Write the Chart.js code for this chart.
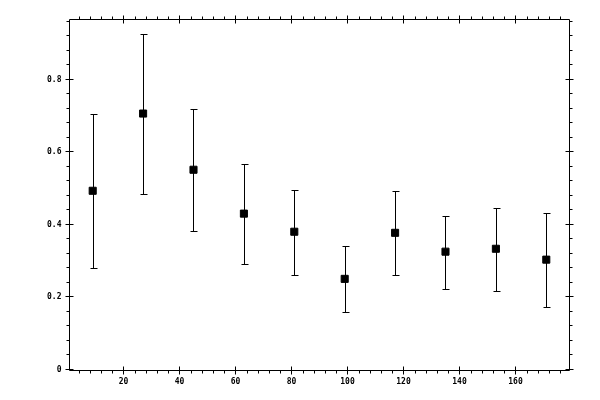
<!DOCTYPE html>
<html>
<head>
<meta charset="utf-8">
<script src="https://cdn.jsdelivr.net/npm/chart.js@4/dist/chart.umd.min.js"></script>
<style>
  html, body { margin: 0; padding: 0; background: #fff; }
  canvas { display: block; }
</style>
</head>
<body>
<canvas id="graph" width="600" height="400"></canvas>
<script>
// bin centres and measured values
var xValues = [9, 27, 45, 63, 81, 99, 117, 135, 153, 171];
var yValues = [0.493, 0.706, 0.551, 0.430, 0.380, 0.250, 0.377, 0.325, 0.333, 0.303];
var yHigh   = [0.706, 0.926, 0.719, 0.567, 0.496, 0.340, 0.493, 0.424, 0.446, 0.431];
var yLow    = [0.279, 0.485, 0.383, 0.292, 0.262, 0.159, 0.261, 0.223, 0.217, 0.173];

// tick labels
var xTicks = [20, 40, 60, 80, 100, 120, 140, 160];
var yTicks = [0, 0.2, 0.4, 0.6, 0.8];

var points = xValues.map(function (x, i) {
    return { x: x, y: yValues[i] };
});

// frame with inward/outward major ticks and outward minor ticks, plus error bars
var framePlugin = {
    id: 'frame',
    beforeDatasetsDraw: function (chart) {
        var ctx = chart.ctx;
        var xs = chart.scales.x, ys = chart.scales.y;
        ctx.save();
        ctx.strokeStyle = '#000';
        ctx.lineWidth = 1;
        ctx.beginPath();
        xValues.forEach(function (x, i) {
            var px = Math.round(xs.getPixelForValue(x)) + 0.5;
            var top = Math.round(ys.getPixelForValue(yHigh[i])) + 0.5;
            var bot = Math.round(ys.getPixelForValue(yLow[i])) + 0.5;
            ctx.moveTo(px, top); ctx.lineTo(px, bot);
            ctx.moveTo(px - 3, top); ctx.lineTo(px + 4, top);
            ctx.moveTo(px - 3, bot); ctx.lineTo(px + 4, bot);
        });
        ctx.stroke();
        ctx.restore();
    },
    afterDraw: function (chart) {
        var ctx = chart.ctx;
        var a = chart.chartArea;
        var xs = chart.scales.x, ys = chart.scales.y;
        ctx.save();
        ctx.strokeStyle = '#000';
        ctx.lineWidth = 1;
        ctx.beginPath();
        ctx.rect(a.left, a.top, a.right - a.left, a.bottom - a.top);

        var v, p;
        for (v = 4; v < xs.max; v += 4) {
            if (v < xs.min) continue;
            p = Math.round(xs.getPixelForValue(v)) + 0.5;
            if (v % 20 === 0) {
                ctx.moveTo(p, a.bottom + 4); ctx.lineTo(p, a.bottom - 4);
                ctx.moveTo(p, a.top - 4); ctx.lineTo(p, a.top + 4);
            } else {
                ctx.moveTo(p, a.bottom); ctx.lineTo(p, a.bottom + 3);
                ctx.moveTo(p, a.top); ctx.lineTo(p, a.top - 3);
            }
        }
        for (var k = 0; k * 0.04 <= ys.max; k++) {
            v = k * 0.04;
            p = Math.round(ys.getPixelForValue(v) - 0.5) + 0.5;
            if (k % 5 === 0) {
                ctx.moveTo(a.left - 4, p); ctx.lineTo(a.left + 4, p);
                ctx.moveTo(a.right - 4, p); ctx.lineTo(a.right + 4, p);
            } else {
                ctx.moveTo(a.left, p); ctx.lineTo(a.left - 3, p);
                ctx.moveTo(a.right, p); ctx.lineTo(a.right + 3, p);
            }
        }
        ctx.stroke();
        ctx.restore();
    }
};

var chart = new Chart(document.getElementById('graph'), {
    type: 'scatter',
    data: {
        datasets: [{
            data: points,
            pointStyle: 'rect',
            pointRadius: 5,
            pointHoverRadius: 5,
            backgroundColor: '#000',
            borderColor: '#000',
            borderWidth: 1
        }]
    },
    options: {
        responsive: false,
        devicePixelRatio: 1,
        animation: false,
        layout: { padding: { top: 19.5, right: 30.5, left: 0, bottom: 0 } },
        plugins: { legend: { display: false }, tooltip: { enabled: false } },
        scales: {
            x: {
                type: 'linear',
                min: 0.714,
                max: 179.29,
                grid: { display: false, drawTicks: false },
                border: { display: false },
                afterBuildTicks: function (s) {
                    s.ticks = xTicks.map(function (v) { return { value: v }; });
                },
                afterFit: function (s) { s.height = 29.5; },
                ticks: {
                    padding: 7,
                    maxRotation: 0,
                    color: '#000',
                    font: { family: 'DejaVu Sans Mono', size: 8, weight: 'bold' }
                }
            },
            y: {
                min: -0.0028,
                max: 0.9655,
                grid: { display: false, drawTicks: false },
                border: { display: false },
                afterBuildTicks: function (s) {
                    s.ticks = yTicks.map(function (v) { return { value: v }; });
                },
                afterFit: function (s) { s.width = 69.5; },
                ticks: {
                    padding: 8,
                    color: '#000',
                    font: { family: 'DejaVu Sans Mono', size: 8, weight: 'bold' },
                    callback: function (v) { return String(v); }
                }
            }
        }
    },
    plugins: [framePlugin]
});
</script>
</body>
</html>
